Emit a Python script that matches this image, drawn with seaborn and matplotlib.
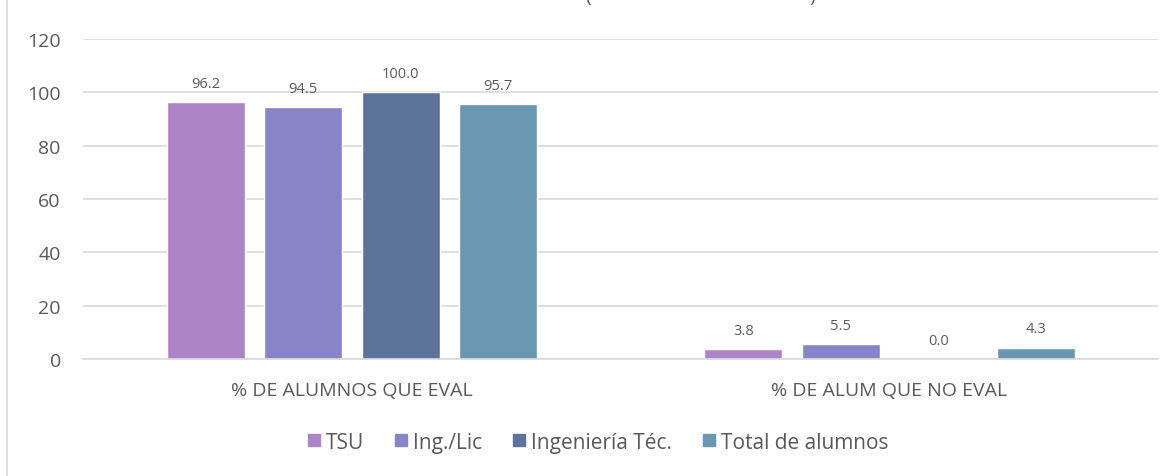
import matplotlib
matplotlib.use("Agg")
import matplotlib.pyplot as plt
import seaborn as sns
import pandas as pd
from matplotlib.lines import Line2D

categories = ["% DE ALUMNOS QUE EVAL", "% DE ALUM QUE NO EVAL"]
series = ["TSU", "Ing./Lic", "Ingeniería Téc.", "Total de alumnos"]
tsu = [96.2, 3.8]
ing_lic = [94.5, 5.5]
ing_tec = [100.0, 0.0]
total = [95.7, 4.3]
yticks = [0, 20, 40, 60, 80, 100, 120]

colors = ["#AD84C6", "#8784C7", "#5D739A", "#6997AF"]

rows = []
for name, vals in zip(series, [tsu, ing_lic, ing_tec, total]):
    for c, v in zip(categories, vals):
        rows.append({"cat": c, "serie": name, "val": v})
df = pd.DataFrame(rows)

sns.set_theme(style="white")
plt.rcParams["font.family"] = ["Open Sans", "DejaVu Sans"]
txt = "#595959"

fig = plt.figure(figsize=(11.7, 4.77), dpi=100)
ax = fig.add_axes([0.071, 0.2453, 0.919, 0.6708])

sns.barplot(data=df, x="cat", y="val", hue="serie", order=categories,
            hue_order=series, palette=colors, width=0.725, gap=0.2,
            saturation=1, ax=ax, legend=False, errorbar=None)

for cont in ax.containers:
    ax.bar_label(cont, fmt="%.1f", padding=8, fontsize=10.5, color=txt)

ax.set_ylim(0, 120)
ax.set_yticks(yticks)
ax.set_xlim(-0.5, 1.5)
ax.set_xlabel("")
ax.set_ylabel("")
ax.grid(axis="y", color="#D9D9D9", linewidth=1.2)
ax.set_axisbelow(True)
for s in ["top", "right", "left"]:
    ax.spines[s].set_visible(False)
ax.spines["bottom"].set_color("#D9D9D9")
ax.spines["bottom"].set_linewidth(1.2)
ax.tick_params(axis="y", labelsize=14, colors=txt, length=0, pad=16)
ax.tick_params(axis="x", labelsize=14, colors=txt, length=0, pad=16)

handles = [Line2D([0], [0], marker="s", linestyle="none", markersize=8,
                  markerfacecolor=c, markeredgecolor=c) for c in colors]
fig.legend(handles, series, loc="center", bbox_to_anchor=(598 / 1170, 0.071),
           ncol=4, frameon=False, fontsize=15, labelcolor=txt,
           handletextpad=0.3, columnspacing=1.45, handlelength=0.6)

# left border of chart area
fig.add_artist(Line2D([7 / 1170, 7 / 1170], [0, 1], transform=fig.transFigure,
                      color="#D9D9D9", linewidth=1.2))
# clipped title remnants (title is cut off at the top in the original)
fig.text(588 / 1170, 1 - 6 / 477, "(", fontsize=14, color=txt, ha="center", va="bottom")
fig.text(812 / 1170, 1 - 6 / 477, ")", fontsize=14, color=txt, ha="center", va="bottom")

fig.savefig("out.png", dpi=100)
